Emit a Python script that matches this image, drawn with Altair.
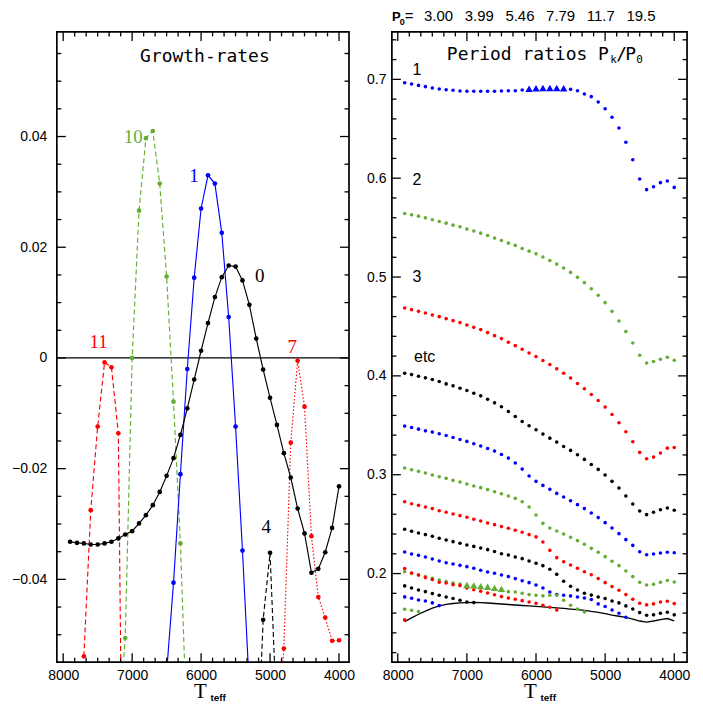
import altair as alt
import pandas as pd

# ---------------- colours ----------------
BLUE, GREEN, RED, BLACK = "#0000ff", "#63ad32", "#ff0000", "#000000"

# ---------------- temperature grid (K) ----------------
TEFF = [7900, 7800, 7700, 7600, 7500, 7400, 7300, 7200, 7100, 7000,
        6900, 6800, 6700, 6600, 6500, 6400, 6300, 6200, 6100, 6000,
        5900, 5800, 5700, 5600, 5500, 5400, 5300, 5200, 5100, 5000,
        4900, 4800, 4700, 4600, 4500, 4400, 4300, 4200, 4100, 4000]

# ---------------- left panel: growth rates ----------------
G_MODE0 = [-0.0332, -0.0334, -0.0335, -0.0337, -0.0337, -0.0335, -0.0332, -0.0326, -0.0319, -0.0313,
           -0.0299, -0.0284, -0.0266, -0.0242, -0.0213, -0.0181, -0.0139, -0.0091, -0.0039, 0.0013,
           0.0063, 0.0110, 0.0146, 0.0167, 0.0165, 0.0140, 0.0096, 0.0035, -0.0021, -0.0072,
           -0.0121, -0.0172, -0.0216, -0.0272, -0.0317, -0.0388, -0.0381, -0.0351, -0.0307, -0.0232]
T_MODE1 = [6500, 6400, 6300, 6200, 6100, 6000, 5900, 5800, 5700, 5600, 5500, 5400, 5300]
G_MODE1 = [-0.0568, -0.0406, -0.0210, -0.0020, 0.0145, 0.0270, 0.0330, 0.0315, 0.0226, 0.0074,
           -0.0124, -0.0348, -0.0597]
T_MODE10 = [7200, 7100, 7000, 6900, 6800, 6700, 6600, 6500, 6400, 6300, 6200]
G_MODE10 = [-0.067, -0.0506, 0.0, 0.0266, 0.0397, 0.0410, 0.0315, 0.0147, -0.0079, -0.0335, -0.0693]
T_MODE11 = [7700, 7600, 7500, 7400, 7300, 7200, 7100]
G_MODE11 = [-0.0539, -0.0275, -0.0124, -0.0008, -0.0017, -0.0136, -0.132]
T_MODE7 = [4900, 4800, 4700, 4600, 4500, 4400, 4300, 4200, 4100, 4000]
G_MODE7 = [-0.070, -0.0525, -0.0153, -0.0005, -0.0088, -0.0322, -0.0432, -0.0469, -0.0511, -0.0510]
T_MODE4 = [5200, 5100, 5000, 4900]
G_MODE4 = [-0.077, -0.0473, -0.0352, -0.066]

LEFT_LABELS = ["10", "1", "0", "11", "7", "4"]
LEFT_LABEL_T = [6985, 6104, 5151, 7485, 4679, 5054]
LEFT_LABEL_G = [0.0399, 0.0328, 0.0148, 0.0028, 0.0019, -0.0305]
LEFT_LABEL_COLORS = [GREEN, BLUE, BLACK, RED, RED, BLACK]

# ---------------- right panel: period ratios ----------------
R1 = [0.6966, 0.6953, 0.6939, 0.6926, 0.6912, 0.6902, 0.6895, 0.6889, 0.6882, 0.6879,
      0.6879, 0.6879, 0.6879, 0.6879, 0.6882, 0.6885, 0.6885, 0.6892, 0.6905, 0.6910,
      0.6912, 0.6912, 0.6912, 0.6910, 0.6899, 0.6885, 0.6852, 0.6825, 0.6771, 0.6703,
      0.6616, 0.6508, 0.6363, 0.6187, 0.5992, 0.5884, 0.5914, 0.5955, 0.5971, 0.5907]
R2 = [0.5643, 0.5629, 0.5616, 0.5599, 0.5579, 0.5562, 0.5545, 0.5525, 0.5508, 0.5485,
      0.5465, 0.5444, 0.5421, 0.5394, 0.5370, 0.5343, 0.5320, 0.5289, 0.5262, 0.5236,
      0.5202, 0.5168, 0.5131, 0.5091, 0.5047, 0.4997, 0.4943, 0.4882, 0.4815, 0.4741,
      0.4653, 0.4555, 0.4448, 0.4333, 0.4209, 0.4131, 0.4145, 0.4168, 0.4188, 0.4158]
R3 = [0.4687, 0.4670, 0.4653, 0.4636, 0.4616, 0.4599, 0.4579, 0.4559, 0.4539, 0.4515,
      0.4491, 0.4468, 0.4438, 0.4407, 0.4377, 0.4340, 0.4306, 0.4269, 0.4232, 0.4195,
      0.4155, 0.4114, 0.4071, 0.4027, 0.3978, 0.3923, 0.3869, 0.3811, 0.3751, 0.3684,
      0.3609, 0.3525, 0.3434, 0.3333, 0.3226, 0.3162, 0.3178, 0.3219, 0.3269, 0.3276]
R4 = [0.4027, 0.4013, 0.3997, 0.3980, 0.3963, 0.3943, 0.3919, 0.3899, 0.3875, 0.3852,
      0.3825, 0.3798, 0.3764, 0.3727, 0.3687, 0.3640, 0.3589, 0.3539, 0.3495, 0.3455,
      0.3411, 0.3370, 0.3330, 0.3286, 0.3246, 0.3202, 0.3155, 0.3104, 0.3054, 0.2997,
      0.2933, 0.2865, 0.2785, 0.2704, 0.2633, 0.2596, 0.2620, 0.2646, 0.2663, 0.2640]
R5 = [0.3492, 0.3478, 0.3461, 0.3444, 0.3431, 0.3414, 0.3397, 0.3377, 0.3357, 0.3337,
      0.3313, 0.3290, 0.3266, 0.3239, 0.3205, 0.3168, 0.3118, 0.3057, 0.2987, 0.2933,
      0.2892, 0.2852, 0.2811, 0.2774, 0.2737, 0.2697, 0.2657, 0.2613, 0.2566, 0.2515,
      0.2461, 0.2404, 0.2343, 0.2285, 0.2221, 0.2191, 0.2198, 0.2208, 0.2215, 0.2211]
R6 = [0.3067, 0.3051, 0.3034, 0.3017, 0.2997, 0.2980, 0.2963, 0.2943, 0.2926, 0.2906,
      0.2886, 0.2869, 0.2849, 0.2828, 0.2808, 0.2785, 0.2761, 0.2727, 0.2673, 0.2593,
      0.2508, 0.2461, 0.2431, 0.2401, 0.2367, 0.2333, 0.2297, 0.2255, 0.2215, 0.2171,
      0.2124, 0.2080, 0.2026, 0.1969, 0.1912, 0.1885, 0.1891, 0.1912, 0.1929, 0.1915]
R7 = [0.2727, 0.2707, 0.2690, 0.2673, 0.2657, 0.2636, 0.2620, 0.2603, 0.2586, 0.2569,
      0.2549, 0.2532, 0.2512, 0.2495, 0.2475, 0.2458, 0.2438, 0.2418, 0.2394, 0.2371,
      0.2320, 0.2235, 0.2161, 0.2120, 0.2087, 0.2053, 0.2019, 0.1988, 0.1949, 0.1908,
      0.1868, 0.1831, 0.1787, 0.1740, 0.1700, 0.1683, 0.1693, 0.1713, 0.1720, 0.1696]
R8 = [0.2448, 0.2428, 0.2411, 0.2394, 0.2377, 0.2357, 0.2340, 0.2323, 0.2306, 0.2289,
      0.2275, 0.2258, 0.2242, 0.2223, 0.2201, 0.2188, 0.2168, 0.2151, 0.2127, 0.2104,
      0.2080, 0.2043, 0.1992, 0.1922, 0.1871, 0.1834, 0.1801, 0.1782, 0.1763, 0.1747,
      0.1723, 0.1703, 0.1673, 0.1642, 0.1605, 0.1578, 0.1582, 0.1599, 0.1609, 0.1582]
R9 = [0.2218, 0.2198, 0.2184, 0.2168, 0.2147, 0.2127, 0.2110, 0.2097, 0.2083, 0.2070,
      0.2053, 0.2033, 0.2016, 0.2003, 0.1986, 0.1969, 0.1949, 0.1928, 0.1908, 0.1885,
      0.1854, 0.1814, 0.1787, 0.1780, 0.1774, 0.1763, 0.1753, 0.1737, 0.1693, 0.1666,
      0.1632, 0.1599, 0.1558]
R10 = [0.2019, 0.2000, 0.1986, 0.1969, 0.1952, 0.1935, 0.1918, 0.1905, 0.1895, 0.1885,
       0.1880, 0.1873, 0.1866, 0.1855, 0.1845, 0.1817, 0.1814, 0.1801, 0.1787, 0.1780,
       0.1774, 0.1780, 0.1780, 0.1730, 0.1679, 0.1642, 0.1612]
R11 = [0.2050, 0.2006, 0.1986, 0.1959, 0.1939, 0.1912, 0.1905, 0.1888, 0.1878, 0.1855,
       0.1836, 0.1822, 0.1803, 0.1785, 0.1767, 0.1753, 0.1740, 0.1726, 0.1713, 0.1700,
       0.1679, 0.1659, 0.1632]
R12 = [0.1875, 0.1854, 0.1834, 0.1817, 0.1797, 0.1780, 0.1763, 0.1747, 0.1730, 0.1713, 0.1706]
R13 = [0.1764, 0.1750, 0.1733, 0.1723, 0.1703, 0.1676]
R14 = [0.1639, 0.1629, 0.1615]
R15 = [0.1531]
CUTOFF = [0.1514, 0.1551, 0.1588, 0.1620, 0.1650, 0.1673, 0.1688, 0.1697, 0.1703, 0.1706,
          0.1707, 0.1706, 0.1702, 0.1697, 0.1692, 0.1687, 0.1682, 0.1677, 0.1672, 0.1667,
          0.1662, 0.1657, 0.1652, 0.1647, 0.1641, 0.1635, 0.1628, 0.1617, 0.1608, 0.1595,
          0.1580, 0.1568, 0.1557, 0.1540, 0.1520, 0.1508, 0.1520, 0.1535, 0.1545, 0.1521]
RATIO_SERIES = [R1, R2, R3, R4, R5, R6, R7, R8, R9, R10, R11, R12, R13, R14, R15]
SERIES_COLORS = [BLUE, GREEN, RED, BLACK] * 4
# unstable (triangle) points: series number -> temperatures
UNSTABLE = {1: [6100, 6000, 5900, 5800, 5700, 5600], 10: [7000, 6900, 6800, 6700, 6600, 6500]}

RIGHT_LABELS = ["1", "2", "3", "etc"]
RIGHT_LABEL_T = [7721, 7721, 7721, 7611]
RIGHT_LABEL_R = [0.7094, 0.5983, 0.4996, 0.4192]

# ---------------- axes ----------------
X_LABELS = [8000, 7000, 6000, 5000, 4000]
X_MINOR = [4000 + k * 1000 / 6 for k in range(25) if k % 6]
YL_LABELS = [-0.04, -0.02, 0, 0.02, 0.04]
YL_MINOR = [round(-0.05 + 0.005 * k, 3) for k in range(22) if (k - 2) % 4]
YR_LABELS = [0.2, 0.3, 0.4, 0.5, 0.6, 0.7]
YR_MINOR = [round(0.12 + 0.02 * k, 2) for k in range(32) if (k - 4) % 5]

W1, W2, H = 293, 296, 632
XL = alt.Scale(domain=[3855, 8092], reverse=True, nice=False, zero=False)
YL = alt.Scale(domain=[-0.05495, 0.0589], nice=False, zero=False)
XR = alt.Scale(domain=[3815, 8085], reverse=True, nice=False, zero=False)
YR = alt.Scale(domain=[0.1104, 0.748], nice=False, zero=False)

LABEL_FONT = "Liberation Sans"
MAJOR, MINOR = 9, 4.5


def xy(chart, xf, yf, xs, ys):
    return chart.encode(x=alt.X(f"{xf}:Q", scale=xs, axis=None),
                        y=alt.Y(f"{yf}:Q", scale=ys, axis=None))


def axis_layers(xs, ys, w, h, xdom, ydom, ylabels, ylabel_expr, yminor, ylabpad):
    df = pd.DataFrame({"T": xdom, "v": ydom})
    out = [alt.Chart(df).mark_point(opacity=0).encode(
        x=alt.X("T:Q", scale=xs, axis=alt.Axis(orient="bottom", values=X_LABELS, format="d",
                                               ticks=False, tickSize=0, domain=False, grid=False,
                                               title=None, labelPadding=6, labelFlush=False,
                                               labelOverlap=False)),
        y=alt.Y("v:Q", scale=ys, axis=alt.Axis(orient="left", values=ylabels, labelExpr=ylabel_expr,
                                               ticks=False, tickSize=0, domain=False, grid=False,
                                               title=None, labelPadding=ylabpad, labelFlush=False,
                                               labelOverlap=False)))]
    # inward-pointing ticks on all four edges, placed through the scales
    for xv, yv, size in ((X_LABELS, ylabels, MAJOR), (X_MINOR, yminor, MINOR)):
        dfx = pd.DataFrame({"T": xv})
        dfy = pd.DataFrame({"v": yv})
        rx = alt.Chart(dfx).mark_rule(color="black", strokeWidth=1.3)
        ry = alt.Chart(dfy).mark_rule(color="black", strokeWidth=1.3)
        xe = alt.X("T:Q", scale=xs, axis=None)
        ye = alt.Y("v:Q", scale=ys, axis=None)
        out += [rx.encode(x=xe, y=alt.value(h), y2=alt.value(h - size)),
                rx.encode(x=xe, y=alt.value(0), y2=alt.value(size)),
                ry.encode(y=ye, x=alt.value(0), x2=alt.value(size)),
                ry.encode(y=ye, x=alt.value(w), x2=alt.value(w - size))]
    return out


def teff_title(tx, subx):
    t = alt.Chart(pd.DataFrame({"s": ["T"]})).mark_text(
        font="Liberation Serif", fontSize=21, align="center", baseline="alphabetic", color="black"
    ).encode(x=alt.value(tx), y=alt.value(H + 36), text="s:N")
    s = alt.Chart(pd.DataFrame({"s": ["teff"]})).mark_text(
        font=LABEL_FONT, fontSize=10, fontWeight="bold", align="left", baseline="alphabetic", color="black"
    ).encode(x=alt.value(subx), y=alt.value(H + 39), text="s:N")
    return [t, s]


# ---------- left panel ----------
def growth_layer(T, g, color, dash=None):
    df = pd.DataFrame({"T": T, "g": g})
    kw = dict(color=color, strokeWidth=1.15, clip=True)
    if dash:
        kw["strokeDash"] = dash
    line = xy(alt.Chart(df).mark_line(**kw), "T", "g", XL, YL)
    pts = xy(alt.Chart(df).mark_circle(color=color, size=22, opacity=1, clip=True), "T", "g", XL, YL)
    return [line, pts]


left_layers = axis_layers(XL, YL, W1, H, [3855, 8092], [-0.05495, 0.0589], YL_LABELS,
                          "datum.value == 0 ? '0' : format(datum.value, '.2f')", YL_MINOR, 10)
left_layers.append(alt.Chart(pd.DataFrame({"g": [0.0]})).mark_rule(color="black", strokeWidth=1.2)
                   .encode(y=alt.Y("g:Q", scale=YL, axis=None)))
left_layers += growth_layer(T_MODE11, G_MODE11, RED, [5, 3])
left_layers += growth_layer(T_MODE10, G_MODE10, GREEN, [5, 3])
left_layers += growth_layer(T_MODE7, G_MODE7, RED, [1.5, 2])
left_layers += growth_layer(T_MODE4, G_MODE4, BLACK, [5, 3])
left_layers += growth_layer(T_MODE1, G_MODE1, BLUE)
left_layers += growth_layer(TEFF, G_MODE0, BLACK)

lab_df = pd.DataFrame({"T": LEFT_LABEL_T, "g": LEFT_LABEL_G, "s": LEFT_LABELS, "c": LEFT_LABEL_COLORS})
left_layers.append(xy(alt.Chart(lab_df).mark_text(font="Liberation Serif", fontSize=19, align="center",
                                                  baseline="middle"), "T", "g", XL, YL)
                   .encode(text="s:N", color=alt.Color("c:N", scale=None)))
left_layers.append(xy(alt.Chart(pd.DataFrame({"T": [5945], "g": [0.05445], "s": ["Growth-rates"]}))
                      .mark_text(font="DejaVu Sans Mono", fontSize=18, align="center", baseline="middle",
                                 color="black"), "T", "g", XL, YL).encode(text="s:N"))
left_layers += teff_title(144, 154)

left = alt.layer(*left_layers).resolve_axis(x="independent", y="independent").properties(width=W1, height=H)

# ---------- right panel ----------
rows, tri = [], []
for k, vals in enumerate(RATIO_SERIES, start=1):
    for i, v in enumerate(vals):
        rec = {"T": TEFF[i], "r": v, "c": SERIES_COLORS[k - 1]}
        (tri if TEFF[i] in UNSTABLE.get(k, []) else rows).append(rec)
dots_df = pd.DataFrame(rows)
tri_df = pd.DataFrame(tri)
cut_df = pd.DataFrame({"T": TEFF, "r": CUTOFF})

right_layers = axis_layers(XR, YR, W2, H, [3815, 8085], [0.1104, 0.748], YR_LABELS,
                           "format(datum.value, '.1f')", YR_MINOR, 6)
right_layers.append(xy(alt.Chart(cut_df).mark_line(color="black", strokeWidth=1.3), "T", "r", XR, YR))
right_layers.append(xy(alt.Chart(dots_df).mark_circle(size=13, opacity=1), "T", "r", XR, YR)
                    .encode(color=alt.Color("c:N", scale=None)))
right_layers.append(xy(alt.Chart(tri_df).mark_point(shape="triangle-up", filled=True, size=55, opacity=1),
                       "T", "r", XR, YR).encode(color=alt.Color("c:N", scale=None)))

rlab_df = pd.DataFrame({"T": RIGHT_LABEL_T, "r": RIGHT_LABEL_R, "s": RIGHT_LABELS})
right_layers.append(xy(alt.Chart(rlab_df).mark_text(font=LABEL_FONT, fontSize=16, align="center",
                                                    baseline="middle", color="black"), "T", "r", XR, YR)
                    .encode(text="s:N"))

# "Period ratios P_k/P_0" built from pieces (monospace, so offsets follow character cells)
title_pieces = [("Period ratios P", 0, 0, 18), ("k", 164, 5, 11), ("/", 170, 0, 18), ("P", 179, 0, 18),
                ("0", 190, 5, 11)]
for txt, dx, dy, fs in title_pieces:
    right_layers.append(xy(alt.Chart(pd.DataFrame({"T": [7290], "r": [0.7245], "s": [txt]}))
                           .mark_text(font="DejaVu Sans Mono", fontSize=fs, align="left", baseline="middle",
                                      dx=dx, dy=dy, color="black"), "T", "r", XR, YR).encode(text="s:N"))

# header "P0 = ..." above the right panel
P0_VALUES = ["3.00", "3.99", "5.46", "7.79", "11.7", "19.5"]
header = [("P", 0, -11, 13, "bold"), ("0", 8, -7, 9, "bold"),
          ("=\u2002\u2009" + "\u2002 ".join(P0_VALUES), 13, -11, 15, "normal")]
for txt, x0, y0, fs, fw in header:
    right_layers.append(alt.Chart(pd.DataFrame({"s": [txt]})).mark_text(
        font=LABEL_FONT, fontSize=fs, fontWeight=fw, align="left", baseline="alphabetic", color="black"
    ).encode(x=alt.value(x0), y=alt.value(y0), text="s:N"))
right_layers += teff_title(139, 149)

right = alt.layer(*right_layers).resolve_axis(x="independent", y="independent").properties(width=W2, height=H)

chart = alt.hconcat(left, right, spacing=43, bounds="flush").properties(
    padding={"left": 10, "top": 7, "right": 12, "bottom": 0}
).configure_view(stroke="black", strokeWidth=1.7).configure_axis(
    labelFont=LABEL_FONT, labelFontSize=14, labelColor="black"
)

chart.save("out.html", embed_options={"renderer": "svg", "actions": False})
